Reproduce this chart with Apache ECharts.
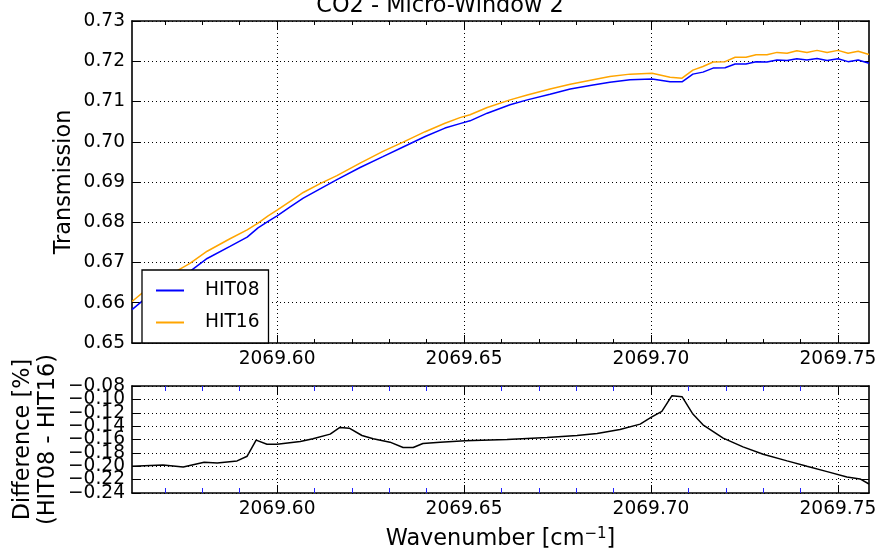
<!DOCTYPE html>
<html>
<head>
<meta charset="utf-8">
<script src="https://cdn.jsdelivr.net/npm/echarts@6/dist/echarts.min.js"></script>
<style>
html, body { margin: 0; padding: 0; background: #fff; }
#main { width: 880px; height: 548px; }
</style>
</head>
<body>
<div id="main"></div>
<script>
// wavenumber grid of the transmission curves [cm-1]
var wavenumber = [2069.5612, 2069.5660, 2069.5701, 2069.5733, 2069.5767, 2069.5813, 2069.5874, 2069.5920, 2069.5949, 2069.5976,
    2069.6000, 2069.6035, 2069.6070, 2069.6115, 2069.6160, 2069.6222, 2069.6283, 2069.6337, 2069.6396, 2069.6449,
    2069.6489, 2069.6516, 2069.6562, 2069.6623, 2069.6669, 2069.6730, 2069.6784, 2069.6845, 2069.6890, 2069.6944,
    2069.7003, 2069.7051, 2069.7083, 2069.7112, 2069.7139, 2069.7166, 2069.7198, 2069.7225, 2069.7254, 2069.7281,
    2069.7310, 2069.7337, 2069.7364, 2069.7390, 2069.7417, 2069.7444, 2069.7471, 2069.7500, 2069.7527, 2069.7554,
    2069.7583];
var hit08 = [0.6583, 0.6620, 0.6648, 0.6662, 0.6678, 0.6710, 0.6740, 0.6763, 0.6786, 0.6802,
    0.6816, 0.6838, 0.6860, 0.6883, 0.6906, 0.6936, 0.6963, 0.6987, 0.7013, 0.7034,
    0.7045, 0.7052, 0.7071, 0.7092, 0.7104, 0.7118, 0.7131, 0.7141, 0.7148, 0.7154,
    0.7156, 0.7149, 0.7149, 0.7168, 0.7173, 0.7183, 0.7184, 0.7193, 0.7193, 0.7199,
    0.7198, 0.7203, 0.7202, 0.7206, 0.7203, 0.7207, 0.7202, 0.7206, 0.7199, 0.7203,
    0.7195];
var hit16 = [0.6603, 0.6640, 0.6665, 0.6680, 0.6698, 0.6728, 0.6759, 0.6781, 0.6798, 0.6816,
    0.6830, 0.6852, 0.6874, 0.6896, 0.6916, 0.6947, 0.6976, 0.6999, 0.7025, 0.7046,
    0.7060, 0.7067, 0.7085, 0.7104, 0.7116, 0.7131, 0.7143, 0.7154, 0.7162, 0.7168,
    0.7170, 0.7160, 0.7158, 0.7178, 0.7187, 0.7198, 0.7199, 0.7210, 0.7210, 0.7216,
    0.7216, 0.7222, 0.7220, 0.7226, 0.7222, 0.7227, 0.7222, 0.7227, 0.7220, 0.7225,
    0.7217];

// difference HIT08 - HIT16 [%]
var diffWavenumber = [2069.5612, 2069.5695, 2069.5749, 2069.5805, 2069.5840, 2069.5893, 2069.5920, 2069.5944, 2069.5973, 2069.6000,
    2069.6062, 2069.6096, 2069.6142, 2069.6168, 2069.6193, 2069.6227, 2069.6257, 2069.6302, 2069.6337, 2069.6364,
    2069.6390, 2069.6436, 2069.6503, 2069.6615, 2069.6722, 2069.6802, 2069.6856, 2069.6917, 2069.6971, 2069.7000,
    2069.7029, 2069.7056, 2069.7083, 2069.7112, 2069.7139, 2069.7193, 2069.7246, 2069.7300, 2069.7364, 2069.7417,
    2069.7471, 2069.7524, 2069.7559, 2069.7583];
var diffValues = [-0.200, -0.198, -0.201, -0.194, -0.195, -0.192, -0.185, -0.161, -0.167, -0.167,
    -0.163, -0.159, -0.152, -0.142, -0.143, -0.154, -0.159, -0.164, -0.172, -0.172,
    -0.166, -0.164, -0.162, -0.160, -0.157, -0.154, -0.151, -0.145, -0.137, -0.127,
    -0.118, -0.0945, -0.096, -0.122, -0.138, -0.158, -0.171, -0.182, -0.192, -0.200,
    -0.208, -0.216, -0.219, -0.2265];

var xMin = 2069.5612, xMax = 2069.7583;
var majorTicks = [2069.60, 2069.65, 2069.70, 2069.75];
var minorTicks = [2069.57, 2069.58, 2069.59, 2069.61, 2069.62, 2069.63, 2069.64, 2069.66,
    2069.67, 2069.68, 2069.69, 2069.71, 2069.72, 2069.73, 2069.74];
// the difference tick labels overlap; split them over two label rows
var diffLabelsA = [-0.24, -0.20, -0.16, -0.12, -0.08];
var diffLabelsB = [-0.22, -0.18, -0.14, -0.10];

var FONT = 'DejaVu Sans';

function pairs(xs, ys) {
    return xs.map(function (x, i) { return [x, ys[i]]; });
}

function minusFmt(v) {
    return (v < 0 ? '\u2212' : '') + Math.abs(v).toFixed(2);
}

// one x axis: main (labels+grid), or just a row of ticks
function xAxisDef(grid, position, ticks, len, tickColor, main) {
    return {
        type: 'value', gridIndex: grid, position: position,
        min: xMin, max: xMax,
        axisLine: { show: main !== null, lineStyle: { color: '#000', width: 1.6 } },
        axisTick: { show: true, inside: true, length: len, customValues: ticks,
            lineStyle: { color: tickColor, width: 1 } },
        axisLabel: { show: main === true, customValues: majorTicks, margin: 7,
            formatter: function (v) { return v.toFixed(2); },
            color: '#000', fontFamily: FONT, fontSize: 18.6 },
        splitLine: { show: main === true, lineStyle: { color: '#000', type: [1, 3], width: 1 } }
    };
}

function yAxisDef(grid, position, min, max, step, main, fmt) {
    return {
        type: 'value', gridIndex: grid, position: position,
        min: min, max: max, interval: step,
        axisLine: { show: true, lineStyle: { color: '#000', width: 1.6 } },
        axisTick: { show: true, inside: true, length: 8, lineStyle: { color: '#000', width: 1 } },
        axisLabel: { show: main, margin: 7, formatter: fmt,
            showMinLabel: true, showMaxLabel: true, hideOverlap: false,
            color: '#000', fontFamily: FONT, fontSize: 18.6 },
        splitLine: { show: main, lineStyle: { color: '#000', type: [1, 3], width: 1 } }
    };
}

var chart = echarts.init(document.getElementById('main'), null, { renderer: 'canvas' });

var xTop = [
    xAxisDef(0, 'bottom', majorTicks, 8, '#000', true),
    xAxisDef(0, 'bottom', minorTicks, 4, '#000', null),
    xAxisDef(0, 'top', majorTicks, 8, '#000', false),
    xAxisDef(0, 'top', minorTicks, 4, '#000', null)
];
var xBottom = [
    xAxisDef(1, 'bottom', majorTicks, 8, '#000', true),
    xAxisDef(1, 'bottom', minorTicks, 5, '#2222ff', null),
    xAxisDef(1, 'top', majorTicks, 8, '#000', false),
    xAxisDef(1, 'top', minorTicks, 5, '#2222ff', null)
];
xBottom[0].name = 'Wavenumber [cm{sup|\u22121}]';
xBottom[0].nameLocation = 'middle';
xBottom[0].nameGap = 34;
xBottom[0].nameTextStyle = {
    color: '#000', fontFamily: FONT, fontSize: 22.4,
    rich: { sup: { fontFamily: FONT, fontSize: 15, color: '#000', verticalAlign: 'top', padding: [0, 0, 10, 0] } }
};

var yTopLeft = yAxisDef(0, 'left', 0.65, 0.73, 0.01, true, function (v) { return v.toFixed(2); });
yTopLeft.name = 'Transmission';
yTopLeft.nameLocation = 'middle';
yTopLeft.nameGap = 57;
yTopLeft.nameMoveOverlap = false;
yTopLeft.nameTextStyle = { color: '#000', fontFamily: FONT, fontSize: 22.4 };

var yBotLeft = yAxisDef(1, 'left', -0.24, -0.08, 0.02, true, minusFmt);
yBotLeft.axisLabel.customValues = diffLabelsA;
yBotLeft.name = 'Difference [%]\n(HIT08 - HIT16)';
yBotLeft.nameLocation = 'middle';
yBotLeft.nameGap = 71;
yBotLeft.nameMoveOverlap = false;
yBotLeft.nameTextStyle = { color: '#000', fontFamily: FONT, fontSize: 22.4, lineHeight: 25 };

var yBotLeftB = yAxisDef(1, 'left', -0.24, -0.08, 0.02, true, minusFmt);
yBotLeftB.axisLabel.customValues = diffLabelsB;
yBotLeftB.axisLine.show = false;
yBotLeftB.axisTick.show = false;
yBotLeftB.splitLine.show = false;

var option = {
    animation: false,
    backgroundColor: '#fff',
    title: {
        text: 'CO2 - Micro-Window 2',
        left: 'center',
        top: -10,
        textStyle: { color: '#000', fontFamily: FONT, fontSize: 22.4, fontWeight: 'normal' }
    },
    legend: {
        data: ['HIT08', 'HIT16'],
        orient: 'vertical',
        left: 142, top: 270,
        padding: [11, 9, 11, 13],
        itemWidth: 28, itemHeight: 14, itemGap: 13,
        itemStyle: { opacity: 0 },
        backgroundColor: '#fff',
        borderColor: '#000', borderWidth: 1.3, borderRadius: 0,
        selectedMode: false,
        textStyle: { color: '#000', fontFamily: FONT, fontSize: 18.6, padding: [0, 0, 0, 16] }
    },
    grid: [
        { left: 132, right: 11, top: 21, bottom: 205, outerBoundsMode: 'none' },
        { left: 132, right: 11, top: 386, bottom: 55, outerBoundsMode: 'none' }
    ],
    xAxis: xTop.concat(xBottom),
    yAxis: [
        yTopLeft,
        yAxisDef(0, 'right', 0.65, 0.73, 0.01, false),
        yBotLeft,
        yAxisDef(1, 'right', -0.24, -0.08, 0.02, false),
        yBotLeftB
    ],
    series: [
        {
            name: 'HIT08', type: 'line', xAxisIndex: 0, yAxisIndex: 0,
            data: pairs(wavenumber, hit08),
            symbol: 'none', color: '#0000ff',
            lineStyle: { color: '#0000ff', width: 1.5 }
        },
        {
            name: 'HIT16', type: 'line', xAxisIndex: 0, yAxisIndex: 0,
            data: pairs(wavenumber, hit16),
            symbol: 'none', color: '#ffa500',
            lineStyle: { color: '#ffa500', width: 1.5 }
        },
        {
            name: 'Difference', type: 'line', xAxisIndex: 4, yAxisIndex: 2,
            data: pairs(diffWavenumber, diffValues),
            symbol: 'none', color: '#000',
            lineStyle: { color: '#000', width: 1.5 }
        }
    ]
};

chart.setOption(option);
</script>
</body>
</html>
